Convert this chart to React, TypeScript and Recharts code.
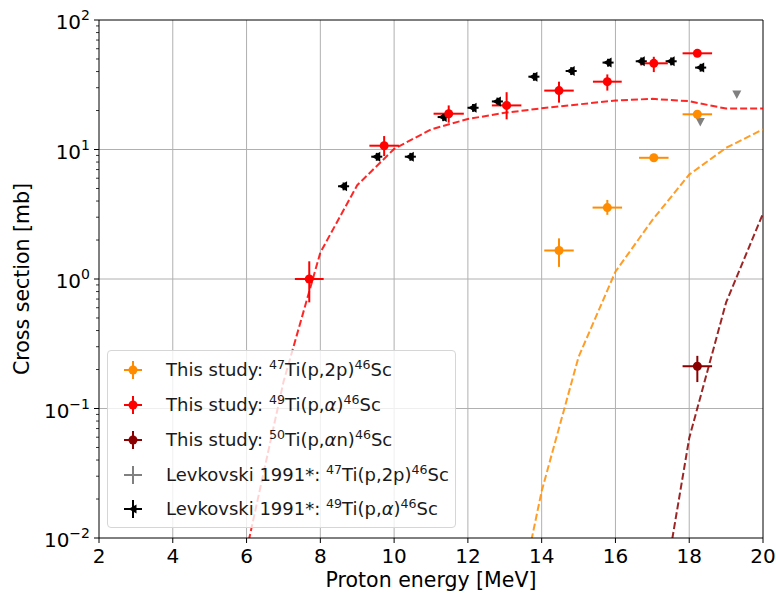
import React from "react";
import {
  ComposedChart,
  XAxis,
  YAxis,
  Scatter,
  Line,
  ErrorBar,
  ReferenceLine,
} from "recharts";

// ---- tick labels ----
const energyTicks = [2, 4, 6, 8, 10, 12, 14, 16, 18, 20];
const yMajorTicks = [0.01, 0.1, 1, 10, 100];
const yExponents = ["\u22122", "\u22121", "0", "1", "2"];
const yMinorTicks = yMajorTicks
  .slice(0, -1)
  .flatMap((d) => [2, 3, 4, 5, 6, 7, 8, 9].map((m) => m * d));

// ---- This study: 47Ti(p,2p)46Sc ----
const p2pX = [14.47, 15.78, 17.04, 18.22];
const p2pY = [1.66, 3.56, 8.63, 18.7];
const p2pLo = [1.24, 3.13, 8.3, 17.8];
const p2pHi = [2.06, 4.08, 9.0, 19.6];
const p2pXErr = [0.4, 0.4, 0.4, 0.4];

// ---- This study: 49Ti(p,a)46Sc ----
const paX = [7.7, 9.73, 11.48, 13.05, 14.47, 15.78, 17.04, 18.22];
const paY = [1.0, 10.7, 18.9, 21.9, 28.5, 33.4, 46.3, 55.3];
const paLo = [0.66, 8.9, 16.1, 17.1, 23.0, 28.5, 39.6, 52.0];
const paHi = [1.37, 12.7, 21.9, 27.7, 33.4, 38.0, 52.0, 58.0];
const paXErr = [0.39, 0.4, 0.41, 0.4, 0.4, 0.39, 0.38, 0.4];

// ---- This study: 50Ti(p,an)46Sc ----
const panX = [18.22];
const panY = [0.212];
const panLo = [0.16];
const panHi = [0.255];
const panXErr = [0.4];

// ---- Levkovski 1991 ----
const levP2pX = [18.3, 19.29];
const levP2pY = [16.3, 26.6];
const levPaX = [8.63, 9.53, 10.44, 11.33, 12.14, 12.8, 13.79, 14.8, 15.8, 16.7, 17.51, 18.31];
const levPaY = [5.2, 8.8, 8.8, 17.8, 21.0, 23.5, 36.5, 40.4, 46.9, 48.0, 48.0, 42.9];
const levPaXErr = [0.15, 0.15, 0.15, 0.15, 0.15, 0.15, 0.15, 0.15, 0.15, 0.15, 0.15, 0.15];

// ---- model curves ----
const paCurveE = [6, 7, 8, 9, 10, 11, 12, 13, 14, 15, 16, 17, 18, 19, 20];
const paCurve = [0.008, 0.16, 1.6, 5.3, 10.1, 14.3, 17.2, 19.2, 20.8, 22.3, 23.9, 24.6, 23.6, 20.7, 20.7];
const p2pCurveE = [13, 14, 15, 16, 17, 18, 19, 20];
const p2pCurve = [0.001, 0.023, 0.25, 1.14, 2.85, 6.4, 10.3, 14.3];
const panCurveE = [17, 18, 19, 20];
const panCurve = [0.0012, 0.059, 0.66, 3.2];

const ORANGE = "#ff8c00";
const RED = "#ff0000";
const DARKRED = "#8b0000";
const GRAY = "#808080";
const BLACK = "#000000";

const toPoints = (xs: number[], ys: number[], lo?: number[], hi?: number[], xe?: number[]) =>
  xs.map((x, i) => ({
    x,
    y: ys[i],
    xe: xe ? xe[i] : 0,
    ye: lo && hi ? [ys[i] - lo[i], hi[i] - ys[i]] : [0, 0],
  }));

const toCurve = (xs: number[], ys: number[]) => xs.map((x, i) => ({ x, y: ys[i] }));

const p2pData = toPoints(p2pX, p2pY, p2pLo, p2pHi, p2pXErr);
const paData = toPoints(paX, paY, paLo, paHi, paXErr);
const panData = toPoints(panX, panY, panLo, panHi, panXErr);
const levP2pData = toPoints(levP2pX, levP2pY);
const levPaData = levPaX.map((x, i) => ({
  x,
  y: levPaY[i],
  xe: levPaXErr[i],
  ye: [levPaY[i] * 0.07, levPaY[i] * 0.07],
}));

const dotShape = (color: string) => (p: any) =>
  <circle cx={p.cx} cy={p.cy} r={4.5} fill={color} />;

const downTriangle = (p: any) => (
  <polygon
    points={`${p.cx - 4.5},${p.cy - 4} ${p.cx + 4.5},${p.cy - 4} ${p.cx},${p.cy + 4.5}`}
    fill={GRAY}
  />
);

const leftTriangle = (p: any) => (
  <polygon
    points={`${p.cx - 5},${p.cy} ${p.cx + 3.5},${p.cy - 5} ${p.cx + 3.5},${p.cy + 5}`}
    fill={BLACK}
  />
);

const YTick = (props: any) => {
  const { x, y, payload } = props;
  const idx = yMajorTicks.indexOf(payload.value);
  if (idx < 0) {
    return <line x1={x - 3} x2={x} y1={y} y2={y} stroke="#000" strokeWidth={0.8} />;
  }
  return (
    <g>
      <line x1={x - 5} x2={x} y1={y} y2={y} stroke="#000" strokeWidth={1} />
      <text x={x - 9} y={y + 9} textAnchor="end" fontSize={20} fill="#000">
        <tspan>10</tspan>
        <tspan dy={-9} fontSize={14}>
          {yExponents[idx]}
        </tspan>
      </text>
    </g>
  );
};

const Sup = ({ children }: any) => (
  <sup style={{ fontSize: "0.7em", verticalAlign: "0.55em", lineHeight: 0 }}>{children}</sup>
);
const Alpha = () => <i>α</i>;

const LegendGlyph = ({ color, kind }: { color: string; kind: string }) => (
  <svg width={24} height={24} style={{ position: "absolute", left: 13, top: -12 }}>
    <line x1={3} x2={21} y1={12} y2={12} stroke={color} strokeWidth={2} />
    <line x1={12} x2={12} y1={3} y2={21} stroke={color} strokeWidth={2} />
    {kind === "dot" && <circle cx={12} cy={12} r={4.5} fill={color} />}
    {kind === "tri" && <polygon points="8,9 16,9 12,15" fill={color} />}
    {kind === "left" && <polygon points="7.5,12 15.5,7.5 15.5,16.5" fill={color} />}
  </svg>
);

const legendRows = [
  { color: ORANGE, kind: "dot", label: <>This study: <Sup>47</Sup>Ti(p,2p)<Sup>46</Sup>Sc</> },
  { color: RED, kind: "dot", label: <>This study: <Sup>49</Sup>Ti(p,<Alpha />)<Sup>46</Sup>Sc</> },
  { color: DARKRED, kind: "dot", label: <>This study: <Sup>50</Sup>Ti(p,<Alpha />n)<Sup>46</Sup>Sc</> },
  { color: GRAY, kind: "plain", label: <>Levkovski 1991*: <Sup>47</Sup>Ti(p,2p)<Sup>46</Sup>Sc</> },
  { color: BLACK, kind: "left", label: <>Levkovski 1991*: <Sup>49</Sup>Ti(p,<Alpha />)<Sup>46</Sup>Sc</> },
];
const legendRowY = [19.3, 53.7, 88.7, 123.7, 158.3];

export default function App() {
  return (
    <div
      style={{
        position: "absolute",
        left: 0,
        top: 0,
        width: 776,
        height: 599,
        background: "#fff",
        fontFamily: "DejaVu Sans",
      }}
    >
      <ComposedChart
        width={776}
        height={599}
        margin={{ top: 20, right: 13, bottom: 0, left: 0 }}
      >
        <XAxis
          dataKey="x"
          type="number"
          domain={[2, 20]}
          ticks={energyTicks}
          interval={0}
          allowDataOverflow
          height={61}
          stroke="#000"
          tickSize={5}
          tickMargin={6}
          tick={{ fontSize: 20, fill: "#000" }}
          label={{
            value: "Proton energy [MeV]",
            position: "insideBottom",
            offset: 12,
            fontSize: 20.5,
            fill: "#000",
          }}
        />
        <YAxis
          dataKey="y"
          type="number"
          scale="log"
          domain={[0.01, 100]}
          allowDataOverflow
          ticks={[...yMajorTicks, ...yMinorTicks]}
          interval={0}
          width={99}
          stroke="#000"
          tickLine={false}
          tickSize={0}
          tickMargin={0}
          tick={<YTick />}
          label={{
            value: "Cross section [mb]",
            angle: -90,
            position: "insideLeft",
            offset: 22,
            fontSize: 20.5,
            fill: "#000",
            style: { textAnchor: "middle" },
          }}
        />

        {energyTicks.slice(1, -1).map((e) => (
          <ReferenceLine key={"gx" + e} x={e} stroke="#b0b0b0" strokeWidth={1} />
        ))}
        {yMajorTicks.slice(1, -1).map((v) => (
          <ReferenceLine key={"gy" + v} y={v} stroke="#b0b0b0" strokeWidth={1} />
        ))}
        <ReferenceLine x={20} stroke="#000" strokeWidth={1} />
        <ReferenceLine y={100} stroke="#000" strokeWidth={1} />

        <Line
          data={toCurve(paCurveE, paCurve)}
          dataKey="y"
          type="linear"
          stroke={RED}
          strokeOpacity={0.85}
          strokeWidth={2}
          strokeDasharray="7 3"
          dot={false}
          isAnimationActive={false}
        />
        <Line
          data={toCurve(p2pCurveE, p2pCurve)}
          dataKey="y"
          type="linear"
          stroke={ORANGE}
          strokeOpacity={0.85}
          strokeWidth={2}
          strokeDasharray="7 3"
          dot={false}
          isAnimationActive={false}
        />
        <Line
          data={toCurve(panCurveE, panCurve)}
          dataKey="y"
          type="linear"
          stroke={DARKRED}
          strokeOpacity={0.85}
          strokeWidth={2}
          strokeDasharray="7 3"
          dot={false}
          isAnimationActive={false}
        />

        <Scatter data={levPaData} shape={leftTriangle} isAnimationActive={false}>
          <ErrorBar dataKey="xe" direction="x" width={0} stroke={BLACK} strokeWidth={2} />
          <ErrorBar dataKey="ye" direction="y" width={0} stroke={BLACK} strokeWidth={2} />
        </Scatter>
        <Scatter data={levP2pData} shape={downTriangle} isAnimationActive={false} />
        <Scatter data={p2pData} shape={dotShape(ORANGE)} isAnimationActive={false}>
          <ErrorBar dataKey="xe" direction="x" width={0} stroke={ORANGE} strokeWidth={2} />
          <ErrorBar dataKey="ye" direction="y" width={0} stroke={ORANGE} strokeWidth={2} />
        </Scatter>
        <Scatter data={paData} shape={dotShape(RED)} isAnimationActive={false}>
          <ErrorBar dataKey="xe" direction="x" width={0} stroke={RED} strokeWidth={2} />
          <ErrorBar dataKey="ye" direction="y" width={0} stroke={RED} strokeWidth={2} />
        </Scatter>
        <Scatter data={panData} shape={dotShape(DARKRED)} isAnimationActive={false}>
          <ErrorBar dataKey="xe" direction="x" width={0} stroke={DARKRED} strokeWidth={2} />
          <ErrorBar dataKey="ye" direction="y" width={0} stroke={DARKRED} strokeWidth={2} />
        </Scatter>
      </ComposedChart>

      <div
        style={{
          position: "absolute",
          left: 107,
          top: 350,
          width: 349,
          height: 178,
          boxSizing: "border-box",
          border: "1px solid #d6d6d6",
          borderRadius: 4,
          background: "rgba(255,255,255,0.8)",
          fontSize: 18,
          color: "#1a1a1a",
        }}
      >
        {legendRows.map((r, i) => (
          <div
            key={i}
            style={{ position: "absolute", left: 0, top: legendRowY[i], width: "100%" }}
          >
            <LegendGlyph color={r.color} kind={r.kind} />
            <div
              style={{
                position: "absolute",
                left: 58,
                top: -12,
                height: 24,
                lineHeight: "24px",
                whiteSpace: "nowrap",
              }}
            >
              {r.label}
            </div>
          </div>
        ))}
      </div>
    </div>
  );
}
